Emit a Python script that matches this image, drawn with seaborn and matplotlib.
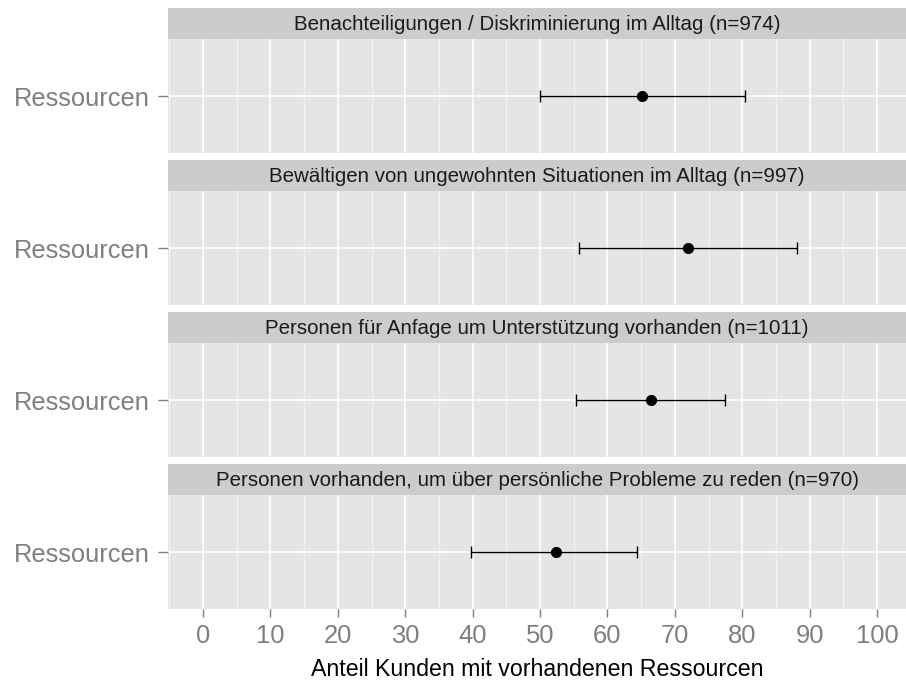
import matplotlib.pyplot as plt
import pandas as pd
import seaborn as sns
from matplotlib.ticker import MultipleLocator

# values (percent)
titles = [
    "Benachteiligungen / Diskriminierung im Alltag (n=974)",
    "Bewältigen von ungewohnten Situationen im Alltag (n=997)",
    "Personen für Anfage um Unterstützung vorhanden (n=1011)",
    "Personen vorhanden, um über persönliche Probleme zu reden (n=970)",
]
category = "Ressourcen"
mean = [65.2, 71.9, 66.5, 52.3]
lower = [50.0, 55.8, 55.4, 39.8]
upper = [80.4, 88.1, 77.5, 64.4]
xticks = list(range(0, 101, 10))
xlabel = "Anteil Kunden mit vorhandenen Ressourcen"

df = pd.DataFrame({"facet": titles, "group": category,
                   "mean": mean, "lower": lower, "upper": upper})
df["ypos"] = 0

sns.set_theme(style="darkgrid", rc={
    "axes.facecolor": "#e5e5e5",
    "grid.color": "white",
    "axes.edgecolor": "#e5e5e5",
})
plt.rcParams["font.family"] = ["Liberation Sans", "DejaVu Sans"]

W, H = 906, 684
fig = plt.figure(figsize=(W / 100, H / 100), dpi=100)
left = 168 / W

for i, row in df.iterrows():
    top = 8 + 152 * i
    # facet strip
    strip = fig.add_axes([left, 1 - (top + 31) / H, 1 - left, 31 / H])
    strip.set_facecolor("#cccccc")
    strip.set_xticks([])
    strip.set_yticks([])
    strip.grid(False)
    for s in strip.spines.values():
        s.set_visible(False)
    strip.text(0.5, 0.47, row["facet"], ha="center", va="center",
               fontsize=14.8, color="#1a1a1a", transform=strip.transAxes)

    ax = fig.add_axes([left, 1 - (top + 145) / H, 1 - left, 114 / H])
    sub = df.iloc[[i]]
    ax.errorbar(sub["mean"], sub["ypos"],
                xerr=[sub["mean"] - sub["lower"], sub["upper"] - sub["mean"]],
                fmt="none", ecolor="black", elinewidth=1.0,
                capsize=4.5, capthick=1.0, zorder=2)
    sns.scatterplot(data=sub, x="mean", y="ypos", ax=ax, color="black",
                    s=55, edgecolor="black", zorder=3, legend=False)

    ax.set_xlim(-5.2, 104.3)
    ax.set_ylim(-0.6, 0.6)
    ax.set_xticks(xticks)
    ax.xaxis.set_minor_locator(MultipleLocator(5))
    ax.set_yticks([0])
    ax.set_yticklabels([category])
    ax.grid(which="major", color="white", lw=1.2)
    ax.grid(which="minor", axis="x", color="#f4f4f4", lw=0.9)
    ax.tick_params(which="minor", length=0)
    ax.tick_params(axis="y", length=7, width=1, color="#7f7f7f",
                   labelsize=18.4, labelcolor="#7f7f7f", pad=6, left=True)
    ax.tick_params(axis="x", length=6, width=1, color="#7f7f7f",
                   labelsize=18.4, labelcolor="#7f7f7f", pad=5, bottom=True)
    ax.set_xlabel("")
    ax.set_ylabel("")
    for s in ax.spines.values():
        s.set_visible(False)
    if i < len(df) - 1:
        ax.tick_params(axis="x", bottom=False, labelbottom=False)

fig.text(0.5 * (left + 1), 1 - 669 / H, xlabel, ha="center", va="center",
         fontsize=16.7, color="black")

fig.savefig("out.png", dpi=100)
